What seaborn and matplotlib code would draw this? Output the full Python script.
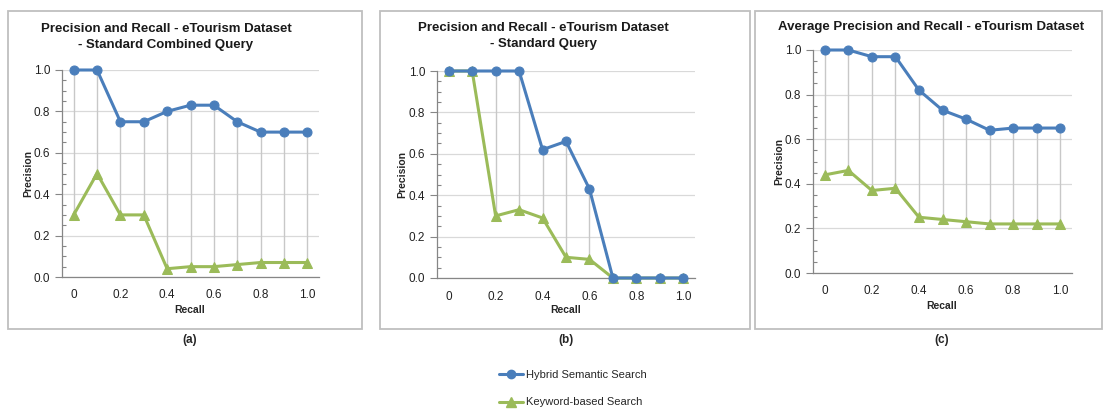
import numpy as np
import pandas as pd
import seaborn as sns
import matplotlib.pyplot as plt
from matplotlib.patches import Rectangle
from matplotlib.lines import Line2D

recall = [0, 0.1, 0.2, 0.3, 0.4, 0.5, 0.6, 0.7, 0.8, 0.9, 1.0]
tick_labels = ["0", "0.2", "0.4", "0.6", "0.8", "1.0"]

hybrid_a = [1.0, 1.0, 0.75, 0.75, 0.80, 0.83, 0.83, 0.75, 0.70, 0.70, 0.70]
keyword_a = [0.30, 0.50, 0.30, 0.30, 0.04, 0.05, 0.05, 0.06, 0.07, 0.07, 0.07]
hybrid_b = [1.0, 1.0, 1.0, 1.0, 0.62, 0.66, 0.43, 0.0, 0.0, 0.0, 0.0]
keyword_b = [1.0, 1.0, 0.30, 0.33, 0.29, 0.10, 0.09, 0.0, 0.0, 0.0, 0.0]
hybrid_c = [1.0, 1.0, 0.97, 0.97, 0.82, 0.73, 0.69, 0.64, 0.65, 0.65, 0.65]
keyword_c = [0.44, 0.46, 0.37, 0.38, 0.25, 0.24, 0.23, 0.22, 0.22, 0.22, 0.22]

titles = ["Precision and Recall - eTourism Dataset\n- Standard Combined Query",
          "Precision and Recall - eTourism Dataset\n- Standard Query",
          "Average Precision and Recall - eTourism Dataset"]
panel_tags = ["(a)", "(b)", "(c)"]

blue = "#4A7EBB"
green = "#9BBB59"
W, H = 1106, 412

sns.set_style("white")
plt.rcParams['font.family'] = ['Liberation Sans', 'DejaVu Sans']

fig = plt.figure(figsize=(W / 100, H / 100), dpi=100)


def px(x0, y0, x1, y1):
    # pixel box (left, top, right, bottom) -> figure fraction rect
    return [x0 / W, 1 - y1 / H, (x1 - x0) / W, (y1 - y0) / H]


# panel frames
for (x0, y0, x1, y1) in [(8, 11, 362, 329), (380, 11, 750, 329), (755, 11, 1102, 329)]:
    fig.patches.append(Rectangle((x0 / W, 1 - y1 / H), (x1 - x0) / W, (y1 - y0) / H,
                                 transform=fig.transFigure, fill=False,
                                 edgecolor="#BFBFBF", lw=1.3))

axes_px = [(62, 70, 319, 277), (437, 71, 695, 278), (813, 50, 1072, 273)]
title_pos = [(166, 37), (543, 36), (931, 27)]
ylab_x = [28, 402, 779]
xlab = [(190, 310), (566, 310), (942, 306)]
tag_pos = [(190, 340), (566, 340), (942, 340)]
data = [(hybrid_a, keyword_a), (hybrid_b, keyword_b), (hybrid_c, keyword_c)]

pos = np.arange(len(recall))

for i, (hyb, key) in enumerate(data):
    ax = fig.add_axes(px(*axes_px[i]))
    df = pd.DataFrame({"pos": pos, "Hybrid": hyb, "Keyword": key})
    ax.vlines(pos, np.minimum(hyb, key), np.maximum(hyb, key),
              color="#C8C8C8", lw=1, zorder=1)
    sns.lineplot(data=df, x="pos", y="Hybrid", ax=ax, color=blue, lw=2.2,
                 marker="o", markersize=6.5, markeredgecolor=blue, clip_on=False, zorder=4)
    sns.lineplot(data=df, x="pos", y="Keyword", ax=ax, color=green, lw=2.2,
                 marker="^", markersize=7, markeredgecolor=green, clip_on=False, zorder=3)
    ax.set_xlim(-0.5, 10.5)
    ax.set_ylim(0, 1.0)
    ax.set_yticks(np.arange(0, 1.01, 0.2))
    ax.set_yticklabels([f"{v:.1f}" for v in np.arange(0, 1.01, 0.2)])
    ax.set_yticks(np.arange(0, 1.0, 0.05), minor=True)
    ax.set_xticks(np.arange(-0.5, 10.6, 1.0), minor=True)
    ax.set_xticks(pos[::2])
    ax.set_xticklabels(tick_labels)
    ax.tick_params(axis="x", which="major", length=0, pad=9, labelsize=8.5, colors="#222222")
    ax.tick_params(axis="x", which="minor", direction="inout", length=6, color="#868686", width=0.8)
    ax.tick_params(axis="y", which="major", direction="out", length=5, color="#868686",
                   width=0.8, labelsize=8.5, colors="#222222", left=True)
    ax.tick_params(axis="y", which="minor", direction="in", length=3, color="#868686",
                   width=0.8, left=True)
    ax.grid(axis="y", which="major", color="#D9D9D9", lw=0.9)
    ax.set_axisbelow(True)
    for s in ["top", "right"]:
        ax.spines[s].set_visible(False)
    for s in ["left", "bottom"]:
        ax.spines[s].set_color("#868686")
        ax.spines[s].set_linewidth(0.9)
    ax.set_xlabel("")
    ax.set_ylabel("")
    tx, ty = title_pos[i]
    fig.text(tx / W, 1 - ty / H, titles[i], ha="center", va="center",
             fontsize=9.5, fontweight="bold", linespacing=1.45, color="#1a1a1a")
    fig.text(ylab_x[i] / W, 1 - ((axes_px[i][1] + axes_px[i][3]) / 2) / H, "Precision",
             rotation=90, ha="center", va="center", fontsize=7.5, fontweight="bold")
    fig.text(xlab[i][0] / W, 1 - xlab[i][1] / H, "Recall", ha="center", va="center",
             fontsize=7.5, fontweight="bold")
    fig.text(tag_pos[i][0] / W, 1 - tag_pos[i][1] / H, panel_tags[i], ha="center",
             va="center", fontsize=8.5, fontweight="bold")

handles = [Line2D([], [], color=blue, lw=2.2, marker="o", markersize=6),
           Line2D([], [], color=green, lw=2.2, marker="^", markersize=7)]
fig.legend(handles, ["Hybrid Semantic Search", "Keyword-based Search"],
           loc="upper left", bbox_to_anchor=(492 / W, 1 - 363 / H), frameon=False,
           fontsize=8, labelspacing=1.6, handlelength=2.2, handletextpad=0.3,
           borderaxespad=0.2)

fig.savefig("out.png", dpi=100)
